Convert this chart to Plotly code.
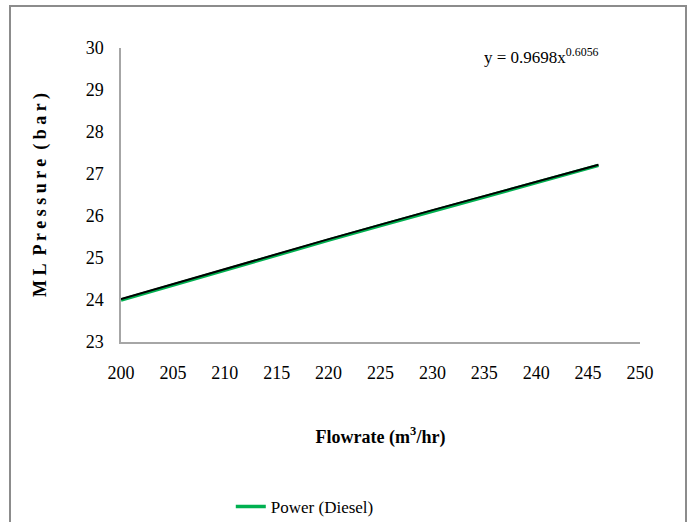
import plotly.graph_objects as go

# Measured main-line pressure against flowrate
flowrate = [200, 210, 220, 230, 240, 246]
pressure = [24.02, 24.74, 25.45, 26.14, 26.82, 27.22]

# Power-law trendline coefficients (y = a * x^b)
coef_a = 0.9698
coef_b = 0.6056
trend_x = [200, 205, 210, 215, 220, 225, 230, 235, 240, 246]
trend_y = [coef_a * x ** coef_b for x in trend_x]

x_ticks = [200, 205, 210, 215, 220, 225, 230, 235, 240, 245, 250]
y_ticks = [23, 24, 25, 26, 27, 28, 29, 30]

serif = "Liberation Serif"

fig = go.Figure()
fig.add_trace(go.Scatter(
    x=trend_x, y=trend_y, mode="lines", name="Power (Diesel)",
    line=dict(color="#00B050", width=3.5),
))
fig.add_trace(go.Scatter(
    x=flowrate, y=pressure, mode="lines", name="Diesel",
    line=dict(color="black", width=2), showlegend=False,
))

fig.update_layout(
    width=691, height=522,
    margin=dict(l=121, r=51, t=48, b=180),
    paper_bgcolor="white", plot_bgcolor="white",
    font=dict(family=serif, color="black", size=18),
    showlegend=True,
    legend=dict(orientation="h", xref="container", yref="container",
                x=0.334, y=0.029, xanchor="left", yanchor="middle",
                font=dict(family=serif, size=17), itemwidth=30),
    xaxis=dict(range=[200, 250], tickvals=x_ticks, showgrid=False, zeroline=False,
               showline=True, linecolor="#A6A6A6", linewidth=1.5, ticks="",
               ticklabelstandoff=14, tickfont=dict(size=18),
               title=dict(text="<b>Flowrate (m<sup>3</sup>/hr)</b>", standoff=48,
                          font=dict(size=18))),
    yaxis=dict(range=[23, 30], tickvals=y_ticks, showgrid=False, zeroline=False,
               showline=True, linecolor="#A6A6A6", linewidth=1.5, ticks="",
               ticklabelstandoff=12, tickfont=dict(size=18),
               title=dict(text="<b>M L  P r e s s u r e  ( b a r )</b>", standoff=34,
                          font=dict(size=18))),
    annotations=[dict(
        x=0.81, y=29.8, xref="paper", yref="y", xanchor="center", yanchor="middle",
        text="y = 0.9698x<sup>0.6056</sup>", showarrow=False,
        font=dict(family=serif, size=17),
    )],
    shapes=[dict(type="rect", xref="paper", yref="paper",
                 x0=-111 / 519, x1=1 + 46 / 519, y0=-1.0, y1=1 + 42 / 294,
                 line=dict(color="#8C8C8C", width=2), layer="below")],
)

fig.write_html("out.html")
